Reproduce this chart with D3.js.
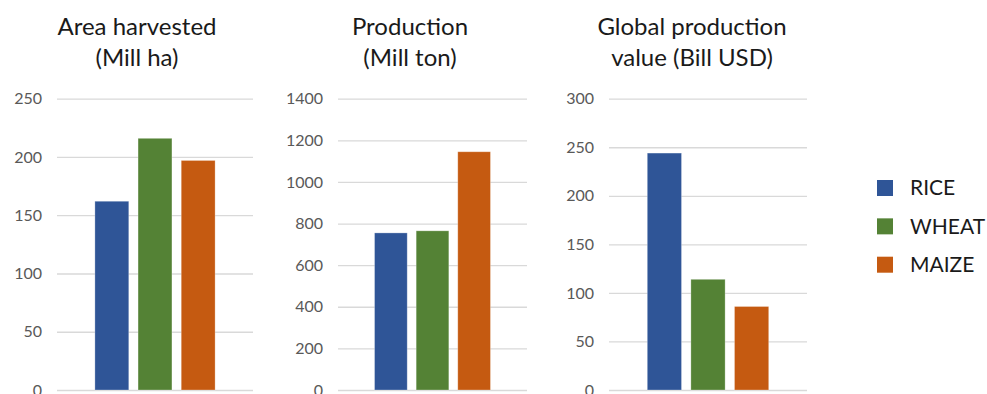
<!DOCTYPE html>
<html>
<head>
<meta charset="utf-8">
<script src="https://cdn.jsdelivr.net/npm/d3@7"></script>
<style>
  html, body { margin: 0; padding: 0; background: #fff; }
  svg { display: block; font-family: Lato, "Open Sans", sans-serif; }
</style>
</head>
<body>
<svg id="chart" width="987" height="394"></svg>
<script>
// ---- data ----
const series = ["RICE", "WHEAT", "MAIZE"];
const titles = [
  ["Area harvested", "(Mill ha)"],
  ["Production", "(Mill ton)"],
  ["Global production", "value (Bill USD)"]
];
const areaHarvested = [162, 216, 197];
const production = [755, 765, 1145];
const productionValue = [244, 114, 86];
const ticks1 = [0, 50, 100, 150, 200, 250];
const ticks2 = [0, 200, 400, 600, 800, 1000, 1200, 1400];
const ticks3 = [0, 50, 100, 150, 200, 250, 300];
const colors = ["#2F5597", "#548235", "#C55A11"];

// ---- layout ----
const panels = [
  { values: areaHarvested, ticks: ticks1, title: titles[0], gx0: 57, gx1: 253, tx: 137 },
  { values: production, ticks: ticks2, title: titles[1], gx0: 338, gx1: 527, tx: 410 },
  { values: productionValue, ticks: ticks3, title: titles[2], gx0: 609, gx1: 807, tx: 692 }
];
const yBottom = 390, yTop = 98.7;

const svg = d3.select("#chart");
const color = d3.scaleOrdinal().domain(series).range(colors);

panels.forEach(p => {
  const g = svg.append("g");
  const y = d3.scaleLinear()
    .domain([0, d3.max(p.ticks)])
    .range([yBottom, yTop]);
  const x = d3.scaleBand()
    .domain(series)
    .range([p.gx0, p.gx1])
    .paddingInner(0.215)
    .paddingOuter(0.878);

  // gridlines + labels via axis
  const axis = d3.axisLeft(y)
    .tickValues(p.ticks)
    .tickSize(-(p.gx1 - p.gx0))
    .tickPadding(15)
    .tickFormat(d3.format("d"));
  const ag = g.append("g")
    .attr("transform", `translate(${p.gx0},0)`)
    .call(axis);
  ag.select(".domain").remove();
  ag.selectAll(".tick line")
    .attr("stroke", "#d9d9d9")
    .attr("stroke-width", 1.3);
  ag.selectAll(".tick text")
    .attr("fill", "#595959")
    .style("font-size", "16px")
    .style("font-family", "Lato, 'Open Sans', sans-serif");

  // bars
  g.selectAll("rect.bar")
    .data(series.map((s, i) => ({ s, v: p.values[i] })))
    .join("rect")
    .attr("class", "bar")
    .attr("x", d => x(d.s))
    .attr("width", x.bandwidth())
    .attr("y", d => y(d.v))
    .attr("height", d => y(0) - y(d.v))
    .attr("fill", d => color(d.s))
    .attr("stroke", "#ffffff")
    .attr("stroke-opacity", 0.35)
    .attr("stroke-width", 0.8);

  // title
  const t = g.append("text")
    .attr("x", p.tx)
    .attr("text-anchor", "middle")
    .attr("fill", "#1a1a1a")
    .style("font-size", "24px");
  t.append("tspan").attr("x", p.tx).attr("y", 35).text(p.title[0]);
  t.append("tspan").attr("x", p.tx).attr("y", 66).text(p.title[1]);
});

// legend
const legY = d3.scalePoint().domain(series).range([188, 264.7]);
const lg = svg.append("g");
const items = lg.selectAll("g.item").data(series).join("g")
  .attr("class", "item")
  .attr("transform", d => `translate(877,${legY(d)})`);
items.append("rect")
  .attr("x", 0).attr("y", -8)
  .attr("width", 16).attr("height", 16)
  .attr("fill", d => color(d));
items.append("text")
  .attr("x", 33).attr("y", 0)
  .attr("dy", "0.35em")
  .attr("fill", "#1a1a1a")
  .style("font-size", "21px")
  .text(d => d);
</script>
</body>
</html>
